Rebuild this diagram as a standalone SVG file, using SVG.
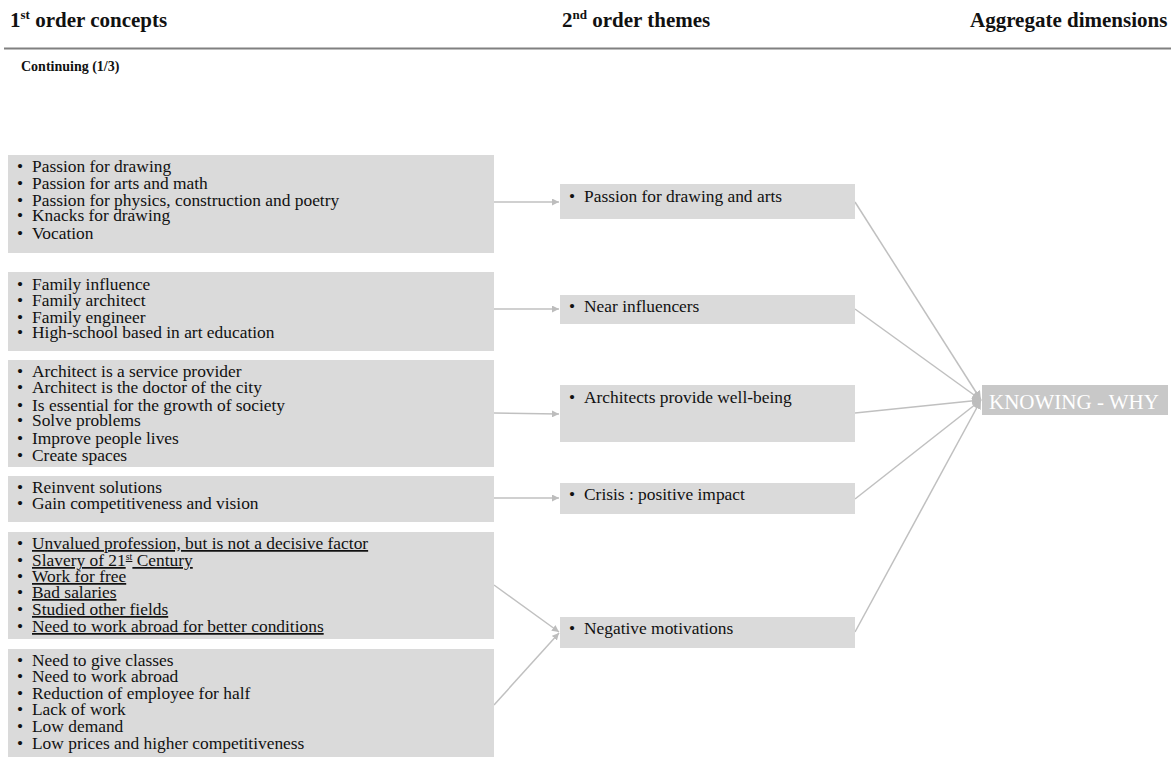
<svg xmlns="http://www.w3.org/2000/svg" width="1171" height="758" viewBox="0 0 1171 758">
<defs>
<marker id="arr" viewBox="0 0 10 10" refX="10" refY="5" markerWidth="7" markerHeight="7" markerUnits="userSpaceOnUse" orient="auto">
<path d="M0,0 L10,5 L0,10 z" fill="#bdbdbd"/>
</marker>
<marker id="arrB" viewBox="0 0 10 10" refX="10" refY="5" markerWidth="9" markerHeight="9" markerUnits="userSpaceOnUse" orient="auto">
<path d="M0,0 L10,5 L0,10 z" fill="#bdbdbd"/>
</marker>
<style>
text{font-family:"Liberation Serif","Times New Roman",serif;fill:#111}
.h{font-size:21px;font-weight:bold}
.t{font-size:17.4px}
.u{text-decoration:underline}
.box{fill:#dadada}
.kbox{fill:#c8c8c8}
.k{font-size:21px;fill:#fff}
.c{stroke:#c0c0c0;stroke-width:1.5;fill:none}
</style>
</defs>
<rect width="1171" height="758" fill="#fff"/>
<g id="header">
<text class="h" x="10" y="27">1<tspan font-size="13" dy="-8">st</tspan><tspan dy="8"> order concepts</tspan></text>
<text class="h" x="562" y="27">2<tspan font-size="13" dy="-8">nd</tspan><tspan dy="8"> order themes</tspan></text>
<text class="h" x="970" y="27">Aggregate dimensions</text>
<line x1="4" y1="48.5" x2="1171" y2="48.5" stroke="#808080" stroke-width="2"/>
<text x="21" y="71" font-size="14" font-weight="bold">Continuing (1/3)</text>
</g>
<g id="connectors">
<line class="c" x1="494" y1="202" x2="559" y2="202" marker-end="url(#arr)"/>
<line class="c" x1="494" y1="309" x2="559" y2="309" marker-end="url(#arr)"/>
<line class="c" x1="494" y1="413" x2="559" y2="414" marker-end="url(#arr)"/>
<line class="c" x1="494" y1="498" x2="559" y2="498" marker-end="url(#arr)"/>
<line class="c" x1="494" y1="585" x2="559" y2="632" marker-end="url(#arr)"/>
<line class="c" x1="494" y1="705" x2="559" y2="633" marker-end="url(#arr)"/>
<line class="c" x1="855" y1="202" x2="981" y2="400" marker-end="url(#arrB)"/>
<line class="c" x1="855" y1="309" x2="981" y2="400" marker-end="url(#arrB)"/>
<line class="c" x1="855" y1="413" x2="981" y2="400" marker-end="url(#arrB)"/>
<line class="c" x1="855" y1="499" x2="981" y2="400" marker-end="url(#arrB)"/>
<line class="c" x1="855" y1="632" x2="981" y2="400" marker-end="url(#arrB)"/>
</g>
<g id="c1">
<rect class="box" x="8" y="155" width="486" height="98"/>
<text class="t"><tspan x="17" y="172">•</tspan><tspan x="32" y="172">Passion for drawing</tspan><tspan x="17" y="189">•</tspan><tspan x="32" y="189">Passion for arts and math</tspan><tspan x="17" y="206">•</tspan><tspan x="32" y="206">Passion for physics, construction and poetry</tspan><tspan x="17" y="221">•</tspan><tspan x="32" y="221">Knacks for drawing</tspan><tspan x="17" y="239">•</tspan><tspan x="32" y="239">Vocation</tspan></text>
</g>
<g id="c2">
<rect class="box" x="8" y="272" width="486" height="79"/>
<text class="t"><tspan x="17" y="290">•</tspan><tspan x="32" y="290">Family influence</tspan><tspan x="17" y="306">•</tspan><tspan x="32" y="306">Family architect</tspan><tspan x="17" y="323">•</tspan><tspan x="32" y="323">Family engineer</tspan><tspan x="17" y="338">•</tspan><tspan x="32" y="338">High-school based in art education</tspan></text>
</g>
<g id="c3">
<rect class="box" x="8" y="360" width="486" height="107"/>
<text class="t"><tspan x="17" y="377">•</tspan><tspan x="32" y="377">Architect is a service provider</tspan><tspan x="17" y="393">•</tspan><tspan x="32" y="393">Architect is the doctor of the city</tspan><tspan x="17" y="411">•</tspan><tspan x="32" y="411">Is essential for the growth of society</tspan><tspan x="17" y="426">•</tspan><tspan x="32" y="426">Solve problems</tspan><tspan x="17" y="444">•</tspan><tspan x="32" y="444">Improve people lives</tspan><tspan x="17" y="461">•</tspan><tspan x="32" y="461">Create spaces</tspan></text>
</g>
<g id="c4">
<rect class="box" x="8" y="476" width="486" height="46"/>
<text class="t"><tspan x="17" y="493">•</tspan><tspan x="32" y="493">Reinvent solutions</tspan><tspan x="17" y="509">•</tspan><tspan x="32" y="509">Gain competitiveness and vision</tspan></text>
</g>
<g id="c5">
<rect class="box" x="8" y="532" width="486" height="107"/>
<text class="t"><tspan x="17" y="549">•</tspan><tspan class="u" x="32" y="549">Unvalued profession, but is not a decisive factor</tspan><tspan x="17" y="566">•</tspan><tspan class="u" x="32" y="566">Slavery of 21</tspan><tspan class="u" font-size="10" dy="-6">st</tspan><tspan class="u" dy="6"> Century</tspan><tspan x="17" y="582">•</tspan><tspan class="u" x="32" y="582">Work for free</tspan><tspan x="17" y="598">•</tspan><tspan class="u" x="32" y="598">Bad salaries</tspan><tspan x="17" y="615">•</tspan><tspan class="u" x="32" y="615">Studied other fields</tspan><tspan x="17" y="632">•</tspan><tspan class="u" x="32" y="632">Need to work abroad for better conditions</tspan></text>
</g>
<g id="c6">
<rect class="box" x="8" y="649" width="486" height="108"/>
<text class="t"><tspan x="17" y="666">•</tspan><tspan x="32" y="666">Need to give classes</tspan><tspan x="17" y="682">•</tspan><tspan x="32" y="682">Need to work abroad</tspan><tspan x="17" y="699">•</tspan><tspan x="32" y="699">Reduction of employee for half</tspan><tspan x="17" y="715">•</tspan><tspan x="32" y="715">Lack of work</tspan><tspan x="17" y="732">•</tspan><tspan x="32" y="732">Low demand</tspan><tspan x="17" y="749">•</tspan><tspan x="32" y="749">Low prices and higher competitiveness</tspan></text>
</g>
<g id="t1">
<rect class="box" x="560" y="184" width="295" height="35"/>
<text class="t"><tspan x="569" y="202">•</tspan><tspan x="584" y="202">Passion for drawing and arts</tspan></text>
</g>
<g id="t2">
<rect class="box" x="560" y="295" width="295" height="29"/>
<text class="t"><tspan x="569" y="312">•</tspan><tspan x="584" y="312">Near influencers</tspan></text>
</g>
<g id="t3">
<rect class="box" x="560" y="385" width="295" height="57"/>
<text class="t"><tspan x="569" y="403">•</tspan><tspan x="584" y="403">Architects provide well-being</tspan></text>
</g>
<g id="t4">
<rect class="box" x="560" y="483" width="295" height="31"/>
<text class="t"><tspan x="569" y="500">•</tspan><tspan x="584" y="500">Crisis : positive impact</tspan></text>
</g>
<g id="t5">
<rect class="box" x="560" y="617" width="295" height="31"/>
<text class="t"><tspan x="569" y="634">•</tspan><tspan x="584" y="634">Negative motivations</tspan></text>
</g>
<g id="agg">
<rect class="kbox" x="982" y="385" width="186" height="30"/>
<text class="k" x="1074" y="409" text-anchor="middle">KNOWING - WHY</text>
</g>
</svg>
